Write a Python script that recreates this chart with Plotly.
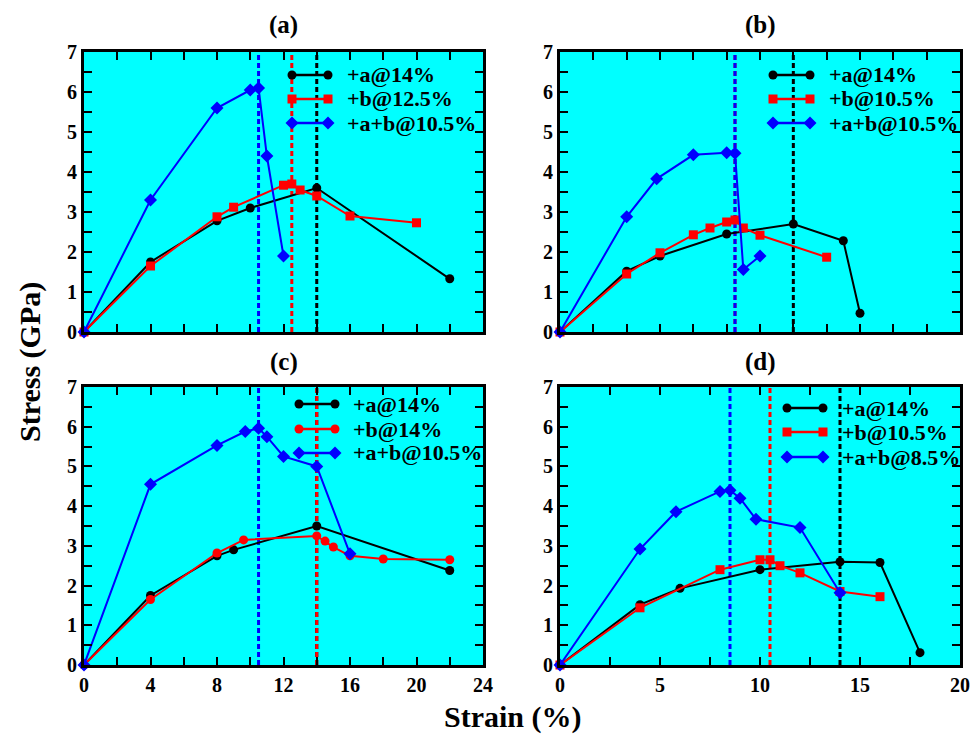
import plotly.graph_objects as go

# ---------------- data ----------------
panel_titles = ["(a)", "(b)", "(c)", "(d)"]

# panel (a)
a_a_x = [0, 4, 8, 10, 14, 22]
a_a_y = [0, 1.75, 2.78, 3.1, 3.6, 1.33]
a_b_x = [0, 4, 8, 9, 12, 12.5, 13, 14, 16, 20]
a_b_y = [0, 1.65, 2.88, 3.12, 3.67, 3.7, 3.55, 3.4, 2.9, 2.73]
a_ab_x = [0, 4, 8, 10, 10.5, 11, 12]
a_ab_y = [0, 3.3, 5.6, 6.05, 6.1, 4.4, 1.9]
a_names = ["+a@14%", "+b@12.5%", "+a+b@10.5%"]
a_vlines = [14, 12.5, 10.5]

# panel (b)
b_a_x = [0, 4, 6, 10, 14, 17, 18]
b_a_y = [0, 1.52, 1.9, 2.45, 2.7, 2.28, 0.47]
b_b_x = [0, 4, 6, 8, 9, 10, 10.5, 11, 12, 16]
b_b_y = [0, 1.45, 1.98, 2.43, 2.6, 2.75, 2.8, 2.6, 2.42, 1.87]
b_ab_x = [0, 4, 5.8, 8, 10, 10.5, 11, 12]
b_ab_y = [0, 2.88, 3.83, 4.43, 4.48, 4.47, 1.56, 1.9]
b_names = ["+a@14%", "+b@10.5%", "+a+b@10.5%"]
b_vlines = [14, 10.5, 10.5]

# panel (c)
c_a_x = [0, 4, 8, 9, 14, 22]
c_a_y = [0, 1.75, 2.75, 2.9, 3.5, 2.38]
c_b_x = [0, 4, 8, 9.6, 14, 14.5, 15, 16, 18, 22]
c_b_y = [0, 1.65, 2.82, 3.15, 3.25, 3.12, 2.97, 2.75, 2.67, 2.65]
c_ab_x = [0, 4, 8, 9.7, 10.5, 11, 12, 14, 16]
c_ab_y = [0, 4.55, 5.53, 5.88, 5.96, 5.75, 5.25, 5.0, 2.8]
c_names = ["+a@14%", "+b@14%", "+a+b@10.5%"]
c_vlines = [14, 14, 10.5]

# panel (d)
d_a_x = [0, 4, 6, 10, 14, 16, 18]
d_a_y = [0, 1.52, 1.93, 2.4, 2.6, 2.58, 0.31]
d_b_x = [0, 4, 8, 10, 10.5, 11, 12, 14, 16]
d_b_y = [0, 1.44, 2.4, 2.65, 2.65, 2.5, 2.32, 1.85, 1.72]
d_ab_x = [0, 4, 5.8, 8, 8.5, 9, 9.8, 12, 14]
d_ab_y = [0, 2.92, 3.86, 4.37, 4.4, 4.2, 3.67, 3.46, 1.82]
d_names = ["+a@14%", "+b@10.5%", "+a+b@8.5%"]
d_vlines = [14, 10.5, 8.5]

x_ranges = [[0, 24], [0, 24], [0, 24], [0, 20]]
x_dticks = [4, 4, 4, 5]
x_minor = [2, 2, 2, 2.5]
y_range = [0, 7]

# ---------------- styling ----------------
W, H = 972, 746
FONT = "Liberation Serif, Times New Roman, Times, DejaVu Serif, serif"
colors = ["#000000", "#ff0000", "#0000ff"]
panel_symbols = [
    ["circle", "square", "diamond"],
    ["circle", "square", "diamond"],
    ["circle", "circle", "diamond"],
    ["circle", "square", "diamond"],
]
msize = {"circle": 9, "square": 9, "diamond": 10}


def px(X):
    return X / W


def py(Y):
    return 1 - Y / H


# pixel boxes of plots (left, right, top, bottom)
boxes = [(84, 483, 52, 332), (560, 960, 52, 332), (84, 483, 387, 665), (560, 960, 387, 665)]
# legend layout in pixels: sample start, sample end, text left, row centres
legend_geo = [
    (292, 328, 345, [75, 99, 123]),
    (773, 810, 827, [75, 99, 123]),
    (299, 335, 351, [404, 429, 453]),
    (787, 823, 840, [408, 432, 457]),
]

panels = [
    ([a_a_x, a_b_x, a_ab_x], [a_a_y, a_b_y, a_ab_y], a_names, a_vlines),
    ([b_a_x, b_b_x, b_ab_x], [b_a_y, b_b_y, b_ab_y], b_names, b_vlines),
    ([c_a_x, c_b_x, c_ab_x], [c_a_y, c_b_y, c_ab_y], c_names, c_vlines),
    ([d_a_x, d_b_x, d_ab_x], [d_a_y, d_b_y, d_ab_y], d_names, d_vlines),
]

fig = go.Figure()
layout = dict(
    width=W, height=H, margin=dict(l=0, r=0, t=0, b=0, pad=0, autoexpand=False),
    paper_bgcolor="white", plot_bgcolor="#00ffff",
    font=dict(family=FONT, size=19, color="black"),
    showlegend=False,
)
annotations = []

for i, (xs, ys, names, vls) in enumerate(panels):
    n = i + 1
    xa = "x" if n == 1 else f"x{n}"
    ya = "y" if n == 1 else f"y{n}"
    l, r, t, b = boxes[i]
    x0, x1 = x_ranges[i]

    def to_dx(X):
        return x0 + (X - l) / (r - l) * (x1 - x0)

    def to_dy(Y):
        return y_range[0] + (b - Y) / (b - t) * (y_range[1] - y_range[0])

    # dotted vertical markers at the quoted strains
    for k in range(3):
        fig.add_trace(go.Scatter(
            x=[vls[k], vls[k]], y=y_range, mode="lines",
            line=dict(color=colors[k], width=3, dash="5px,3px"),
            xaxis=xa, yaxis=ya, hoverinfo="skip"))
    # data curves
    for k in range(3):
        sym = panel_symbols[i][k]
        fig.add_trace(go.Scatter(
            x=xs[k], y=ys[k], mode="lines+markers", name=names[k],
            line=dict(color=colors[k], width=2),
            marker=dict(symbol=sym, size=msize[sym], color=colors[k]),
            cliponaxis=False, xaxis=xa, yaxis=ya))
    # legend (sample line with a marker at each end, then label)
    sx0, sx1, tx, rows = legend_geo[i]
    for k in range(3):
        sym = panel_symbols[i][k]
        yy = to_dy(rows[k])
        fig.add_trace(go.Scatter(
            x=[to_dx(sx0), to_dx(sx1)], y=[yy, yy], mode="lines+markers",
            line=dict(color=colors[k], width=2.5),
            marker=dict(symbol=sym, size=msize[sym], color=colors[k]),
            xaxis=xa, yaxis=ya, hoverinfo="skip"))
        annotations.append(dict(text=f"<b>{names[k]}</b>", x=px(tx), y=py(rows[k]),
                                xref="paper", yref="paper", xanchor="left", yanchor="middle",
                                showarrow=False,
                                font=dict(family=FONT, size=22, color="black")))

    xdom = [px(l), px(r)]
    ydom = [py(b), py(t)]
    show_x = i >= 2
    axis_common = dict(showline=True, linecolor="black", linewidth=3, mirror="ticks",
                       ticks="inside", ticklen=8, tickwidth=2, tickcolor="black",
                       showgrid=False, zeroline=False, automargin=False,
                       tickfont=dict(family=FONT, size=20, color="black", weight="bold"))
    layout["xaxis" if n == 1 else f"xaxis{n}"] = dict(
        domain=xdom, range=x_ranges[i], dtick=x_dticks[i], tick0=0,
        showticklabels=show_x, anchor=ya,
        minor=dict(dtick=x_minor[i], ticks="inside", ticklen=8, tickwidth=2, tickcolor="black"),
        **axis_common)
    layout["yaxis" if n == 1 else f"yaxis{n}"] = dict(
        domain=ydom, range=y_range, dtick=1, tick0=0, anchor=xa,
        minor=dict(dtick=0.5, ticks="inside", ticklen=8, tickwidth=2, tickcolor="black"),
        **axis_common)
    annotations.append(dict(text=f"<b>{panel_titles[i]}</b>", x=px((l + r) / 2),
                            y=py(25 if i < 2 else 362), xref="paper", yref="paper",
                            xanchor="center", yanchor="middle",
                            showarrow=False, font=dict(family=FONT, size=25, color="black")))

annotations.append(dict(text="<b>Stress (GPa)</b>", x=px(30), y=py(362), xref="paper",
                        yref="paper", showarrow=False, textangle=-90,
                        xanchor="center", yanchor="middle",
                        font=dict(family=FONT, size=30, color="black")))
annotations.append(dict(text="<b>Strain (%)</b>", x=px(513), y=py(717), xref="paper",
                        yref="paper", showarrow=False, xanchor="center", yanchor="middle",
                        font=dict(family=FONT, size=30, color="black")))
layout["annotations"] = annotations
fig.update_layout(**layout)
fig.write_html("out.html")
